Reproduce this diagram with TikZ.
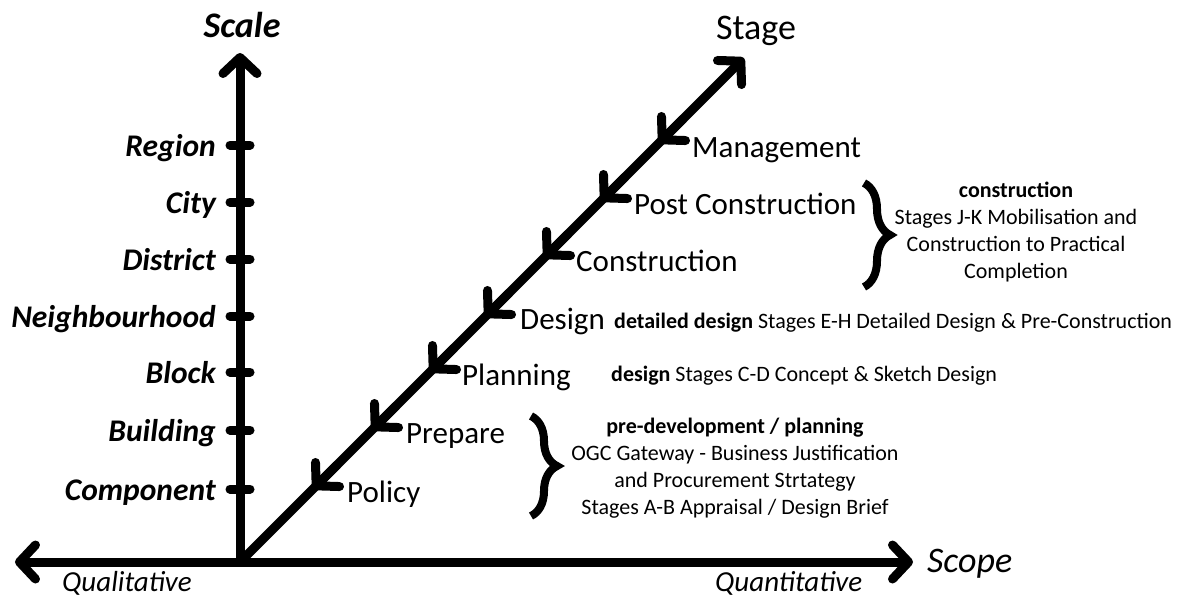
\documentclass[tikz,border=0pt]{standalone}
\usepackage{fontspec}
\setmainfont{Carlito}
\usepackage{tikz}
\usetikzlibrary{arrows.meta}
\usetikzlibrary{decorations.pathreplacing}

\begin{document}
\begin{tikzpicture}[
    x=1pt, y=-1pt,
    >={Straight Barb[length=16pt, width=34pt, round]},
    axis/.style={draw, line width=9pt, line cap=round, line join=round},
    scalelabel/.style={anchor=base east, inner sep=0pt, font=\fontsize{31.5}{31.5}\selectfont\bfseries\itshape},
    stagelabel/.style={anchor=base west, inner sep=0pt, font=\fontsize{31}{31}\selectfont},
    note/.style={align=center, inner sep=0pt, font=\fontsize{22}{27}\selectfont},
    curly/.style={draw, decorate, decoration={brace, amplitude=26pt}, line width=8pt}
]

\useasboundingbox (0,0) rectangle (1189,598);

% Axes :
\coordinate (O) at (240,562);
\coordinate (Ytop) at (240,53);
\coordinate (Xleft) at (15,562);
\coordinate (Xright) at (913,562);
\coordinate (Dtop) at (744,58);

\draw[axis, ->] (O) -- (Ytop);
\draw[axis, <->] (Xleft) -- (Xright);
\draw[axis, ->] (O) -- (Dtop);

% Axis titles :
\node[inner sep=0pt, anchor=base, font=\fontsize{36}{36}\selectfont\bfseries\itshape] (scale) at (242,37) {Scale};
\node[inner sep=0pt, anchor=base, font=\fontsize{36}{36}\selectfont] (stage) at (756,39) {Stage};
\node[inner sep=0pt, anchor=base west, font=\fontsize{36}{36}\selectfont\itshape] (scope) at (927,572) {Scope};
\node[inner sep=0pt, anchor=base west, font=\fontsize{29}{29}\selectfont\itshape] (qualitative) at (62,591) {Qualitative};
\node[inner sep=0pt, anchor=base west, font=\fontsize{29}{29}\selectfont\itshape] (quantitative) at (715,591) {Quantitative};

% Scale ticks :
\draw[axis] (230,145) -- (250,145);
\draw[axis] (230,202) -- (250,202);
\draw[axis] (230,259) -- (250,259);
\draw[axis] (230,316) -- (250,316);
\draw[axis] (230,372) -- (250,372);
\draw[axis] (230,430) -- (250,430);
\draw[axis] (230,489) -- (250,489);

\node[scalelabel] (region) at (216,156) {Region};
\node[scalelabel] (city) at (216,213) {City};
\node[scalelabel] (district) at (216,270) {District};
\node[scalelabel] (neighbourhood) at (216,327) {Neighbourhood};
\node[scalelabel] (block) at (216,383) {Block};
\node[scalelabel] (building) at (216,441) {Building};
\node[scalelabel] (component) at (216,500) {Component};

% Stage ticks :
\coordinate (tmanagement) at (659,143);
\coordinate (tpost) at (601,201);
\coordinate (tconstruction) at (544,258);
\coordinate (tdesign) at (485,317);
\coordinate (tplanning) at (430,372);
\coordinate (tprepare) at (372,430);
\coordinate (tpolicy) at (313,489);

\draw[axis, ->] ([xshift=24pt, yshift=24pt]tmanagement) -- (tmanagement);
\draw[axis, ->] ([xshift=24pt, yshift=24pt]tpost) -- (tpost);
\draw[axis, ->] ([xshift=24pt, yshift=24pt]tconstruction) -- (tconstruction);
\draw[axis, ->] ([xshift=24pt, yshift=24pt]tdesign) -- (tdesign);
\draw[axis, ->] ([xshift=24pt, yshift=24pt]tplanning) -- (tplanning);
\draw[axis, ->] ([xshift=24pt, yshift=24pt]tprepare) -- (tprepare);
\draw[axis, ->] ([xshift=24pt, yshift=24pt]tpolicy) -- (tpolicy);

\node[stagelabel] (management) at (692,157) {Management};
\node[stagelabel] (post) at (634,214) {Post Construction};
\node[stagelabel] (construction) at (576,271) {Construction};
\node[stagelabel] (design) at (520,329) {Design};
\node[stagelabel] (planning) at (462,385) {Planning};
\node[stagelabel] (prepare) at (406,443) {Prepare};
\node[stagelabel] (policy) at (347,502) {Policy};

% Notes :
\node[note, anchor=base west] (detailed) at (614,328) {\textbf{detailed design} Stages E-H Detailed Design \& Pre-Construction};
\node[note, anchor=base west] (sketch) at (611,381) {\textbf{design} Stages C-D Concept \& Sketch Design};
\node[note] (build) at (1016,232) {\textbf{construction}\\Stages J-K Mobilisation and\\Construction to Practical\\Completion};
\node[note] (predev) at (735,468) {\textbf{pre-development / planning}\\OGC Gateway - Business Justification\\and Procurement Strtategy\\Stages A-B Appraisal / Design Brief};

% Braces :
\coordinate (btop) at (864,183);
\coordinate (bbot) at (864,287);
\coordinate (ctop) at (531,416);
\coordinate (cbot) at (531,516);
\draw[curly] (btop) -- (bbot);
\draw[curly] (ctop) -- (cbot);

\end{tikzpicture}
\end{document}
